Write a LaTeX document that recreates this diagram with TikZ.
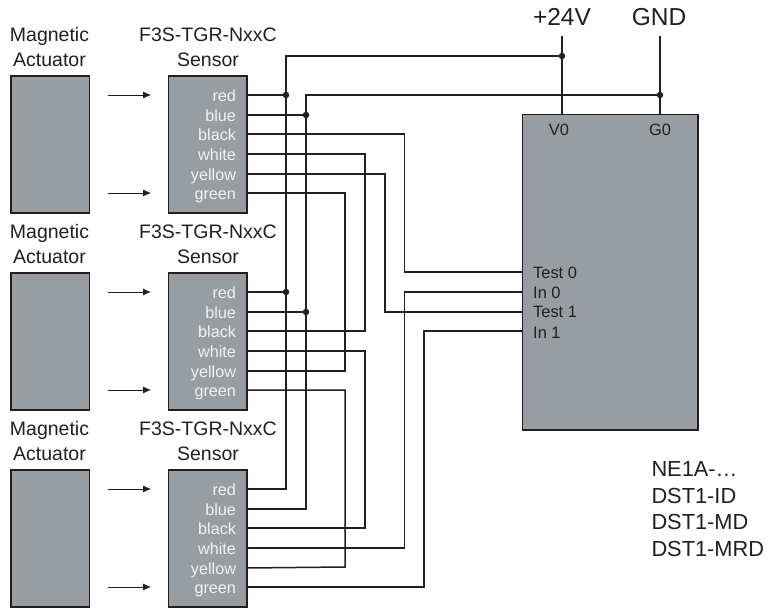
\documentclass[tikz,border=0pt]{standalone}
\usepackage{fontspec}
\setmainfont{Liberation Sans}
\usetikzlibrary{arrows.meta}
\definecolor{boxgray}{HTML}{989DA1}
\definecolor{ink}{HTML}{231F20}
\definecolor{pinwhite}{HTML}{F0F1F1}
\tikzset{
  x=1pt,y=-1pt,
  block/.style={draw=ink,line width=1.6pt,fill=boxgray,minimum width=#1,inner sep=0pt,outer sep=0pt},
  heading/.style={anchor=south,inner sep=0pt,align=center,text=ink,font=\fontsize{19.5}{25}\selectfont},
  pinlabel/.style={anchor=base east,inner sep=0pt,text=pinwhite,font=\fontsize{16.2}{16}\selectfont},
  iolabel/.style={anchor=base west,inner sep=0pt,text=ink,font=\fontsize{16.4}{16}\selectfont},
  toplabel/.style={anchor=base,inner sep=0pt,text=ink,font=\fontsize{24.5}{25}\selectfont},
  wire/.style={draw=ink,line width=1.5pt},
  push/.style={draw=ink,line width=0.8pt,-{Latex[length=8pt,width=7pt]}},
  junction/.style={circle,fill=ink,inner sep=0pt,minimum size=6.5pt},
}
\begin{document}
\begin{tikzpicture}
\useasboundingbox (0,0) rectangle (768,609);
\fill[white] (0,0) rectangle (768,609);
% actuators and sensors
\foreach \n/\top in {1/76,2/273,3/470}{
  \node[block=78.6pt,minimum height=137pt,anchor=north west] (a\n) at (10.7,\top) {};
  \node[block=78.3pt,minimum height=137pt,anchor=north west] (s\n) at (168.4,\top) {};
  \node[heading] (ah\n) at (49.5,\top-9) {Magnetic\\Actuator};
  \node[heading] (sh\n) at (208,\top-9) {F3S-TGR-NxxC\\Sensor};
  \coordinate (s\n red) at (246.7,\top+19);
  \coordinate (s\n blue) at (246.7,\top+39);
  \coordinate (s\n black) at (246.7,\top+58);
  \coordinate (s\n white) at (246.7,\top+78);
  \coordinate (s\n yellow) at (246.7,\top+98);
  \coordinate (s\n green) at (246.7,\top+117);
  \foreach \c in {red,blue,black,white,yellow,green}{
    \node[pinlabel] (l\n\c) at ([shift={(-10.5,6.5)}]s\n\c) {\c};
  }
  \coordinate (pa\n) at (108,\top+19);
  \coordinate (pb\n) at (151,\top+19);
  \coordinate (qa\n) at (108,\top+117);
  \coordinate (qb\n) at (151,\top+117);
  \draw[push] (pa\n) -- (pb\n);
  \draw[push] (qa\n) -- (qb\n);
}
% controller
\node[block=175.6pt,minimum height=315.5pt,anchor=north west] (main) at (522.5,114.5) {};
\coordinate (vpin) at (562,114.5);
\coordinate (gpin) at (660,114.5);
\coordinate (test0) at (522.5,272);
\coordinate (in0) at (522.5,292);
\coordinate (test1) at (522.5,312);
\coordinate (in1) at (522.5,331);
\node[iolabel,anchor=base] (v0) at (559,136) {V0};
\node[iolabel,anchor=base] (g0) at (660,136) {G0};
\node[iolabel] (lt0) at (533,279) {Test 0};
\node[iolabel] (li0) at (533,299) {In 0};
\node[iolabel] (lt1) at (533,318) {Test 1};
\node[iolabel] (li1) at (533,338) {In 1};
% supply
\node[toplabel] (p24) at (562,26) {+24V};
\node[toplabel] (gnd) at (659,26) {GND};
\coordinate (p24end) at (562,36);
\coordinate (gndend) at (660,36);
\node[junction] (jv) at (562,56) {};
\node[junction] (jg) at (660,95) {};
\node[junction] (r1) at (286,95) {};
\node[junction] (r2) at (286,292) {};
\node[junction] (b1) at (306,115) {};
\node[junction] (b2) at (306,312) {};
\draw[wire] (p24end) -- (vpin);
\draw[wire] (gndend) -- (gpin);
% power rails
\draw[wire] (s3red) -| (286,56) -- (jv);
\draw[wire] (s3blue) -| (306,95) -- (jg);
\draw[wire] (s1red) -- (r1);
\draw[wire] (s1blue) -- (b1);
\draw[wire] (s2red) -- (r2);
\draw[wire] (s2blue) -- (b2);
% signals
\draw[wire] (s1black) -| (404.5,272) -- (test0);
\draw[wire] (s3white) -| (404.5,292) -- (in0);
\draw[wire] (s1yellow) -| (385,312) -- (test1);
\draw[wire] (s3green) -| (424,331) -- (in1);
% chains between sensors
\draw[wire] (s1white) -| (365,331) -- (s2black);
\draw[wire] (s1green) -| (345,371) -- (s2yellow);
\draw[wire] (s2white) -| (365,528) -- (s3black);
\draw[wire] (s2green) -| (345,567) -- (s3yellow);
% models
\node[anchor=south west,inner sep=0pt,align=left,text=ink,font=\fontsize{21.8}{26.7}\selectfont] (models) at (651.3,557) {NE1A-…\\DST1-ID\\DST1-MD\\DST1-MRD};
\end{tikzpicture}
\end{document}
